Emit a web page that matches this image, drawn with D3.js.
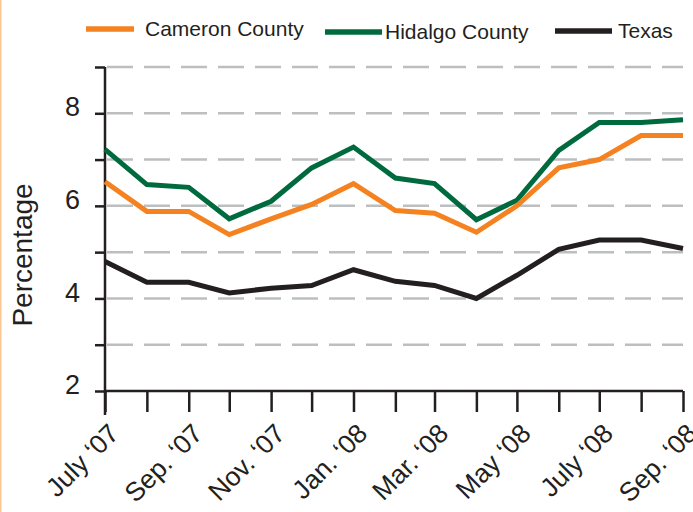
<!DOCTYPE html>
<html>
<head>
<meta charset="utf-8">
<script src="https://cdn.jsdelivr.net/npm/d3@7"></script>
<style>
  body { margin: 0; background: #fff; }
  svg { display: block; font-family: Arial, "Liberation Sans", Helvetica, sans-serif; }
</style>
</head>
<body>
<div id="chart"></div>
<script>
// Monthly rates, July '07 - Sep. '08
var months = ["2007-07-01", "2007-08-01", "2007-09-01", "2007-10-01", "2007-11-01",
    "2007-12-01", "2008-01-01", "2008-02-01", "2008-03-01", "2008-04-01",
    "2008-05-01", "2008-06-01", "2008-07-01", "2008-08-01", "2008-09-01"];
var monthLabels = ["July \u201807", "", "Sep. \u201807", "", "Nov. \u201807", "",
    "Jan. \u201808", "", "Mar. \u201808", "", "May \u201808", "", "July \u201808", "", "Sep. \u201808"];

var cameron = [6.52, 5.88, 5.88, 5.38, 5.72, 6.03, 6.48, 5.9, 5.84, 5.43, 6.0, 6.82, 7.0, 7.52, 7.52];
var hidalgo = [7.22, 6.46, 6.4, 5.72, 6.1, 6.82, 7.27, 6.6, 6.48, 5.7, 6.12, 7.2, 7.8, 7.8, 7.86];
var texas   = [4.8, 4.35, 4.35, 4.12, 4.22, 4.28, 4.62, 4.37, 4.28, 4.0, 4.5, 5.06, 5.26, 5.26, 5.08];

var seriesNames = ["Cameron County", "Hidalgo County", "Texas"];
var yTicks = [2, 3, 4, 5, 6, 7, 8, 9];
var yLabels = [2, 4, 6, 8];

var colors = { "Cameron County": "#f58220", "Hidalgo County": "#006a3f", "Texas": "#231f20" };

var width = 693, height = 512;
var margin = { top: 67, right: 10, bottom: 121, left: 105 };
var parse = d3.timeParse("%Y-%m-%d");
var dates = months.map(parse);

var svg = d3.select("#chart").append("svg")
    .attr("width", width)
    .attr("height", height);

// thin orange frame edge on the left
svg.append("rect")
    .attr("x", 0).attr("y", 0)
    .attr("width", 1.5).attr("height", height)
    .attr("fill", "#fbc692");

var x = d3.scaleTime()
    .domain(d3.extent(dates))
    .range([margin.left, 683]);

var y = d3.scaleLinear()
    .domain([2, 9])
    .range([391, margin.top]);

// dashed gridlines
svg.append("g")
    .selectAll("line")
    .data(yTicks.filter(function(d) { return d > 2; }))
    .enter().append("line")
    .attr("x1", margin.left + 2)
    .attr("x2", 683)
    .attr("y1", function(d) { return y(d); })
    .attr("y2", function(d) { return y(d); })
    .attr("stroke", "#bcbec0")
    .attr("stroke-width", 2.5)
    .attr("stroke-dasharray", "26,11");

// y axis
var yAxis = d3.axisLeft(y)
    .tickValues(yTicks)
    .tickSize(10)
    .tickPadding(15)
    .tickFormat(function(d) { return yLabels.indexOf(d) >= 0 ? d : ""; });

var gy = svg.append("g")
    .attr("transform", "translate(" + margin.left + ",0)")
    .call(yAxis);
gy.select(".domain").remove();
gy.selectAll(".tick line").attr("stroke", "#231f20").attr("stroke-width", 2.5);
gy.selectAll(".tick text")
    .attr("fill", "#231f20")
    .attr("font-size", 27)
    .attr("dy", "0.1em");

// x axis
var xAxis = d3.axisBottom(x)
    .tickValues(dates)
    .tickSize(21)
    .tickFormat(function(d, i) { return monthLabels[i]; });

var gx = svg.append("g")
    .attr("transform", "translate(0," + y(2) + ")")
    .call(xAxis);
gx.select(".domain").remove();
gx.selectAll(".tick line").attr("stroke", "#231f20").attr("stroke-width", 2.5);
gx.selectAll(".tick text")
    .attr("fill", "#231f20")
    .attr("font-size", 26.5)
    .attr("x", 0).attr("y", 0).attr("dy", 0)
    .attr("text-anchor", "end")
    .attr("transform", "translate(15,44) rotate(-45)");

// axis lines
svg.append("line")
    .attr("x1", margin.left).attr("x2", margin.left)
    .attr("y1", y(9)).attr("y2", y(2) + 24)
    .attr("stroke", "#231f20").attr("stroke-width", 2.5);
svg.append("line")
    .attr("x1", margin.left).attr("x2", 683)
    .attr("y1", y(2)).attr("y2", y(2))
    .attr("stroke", "#231f20").attr("stroke-width", 2.5);

// axis title
svg.append("text")
    .attr("transform", "translate(32,255) rotate(-90)")
    .attr("text-anchor", "middle")
    .attr("font-size", 28)
    .attr("fill", "#231f20")
    .text("Percentage");

// lines
var line = d3.line()
    .x(function(d, i) { return x(dates[i]); })
    .y(function(d) { return y(d); });

var seriesData = { "Cameron County": cameron, "Hidalgo County": hidalgo, "Texas": texas };

["Texas", "Hidalgo County", "Cameron County"].forEach(function(name) {
    svg.append("path")
        .datum(seriesData[name])
        .attr("d", line)
        .attr("fill", "none")
        .attr("stroke", colors[name])
        .attr("stroke-width", 5);
});

// legend
var legendPos = [
    { x1: 86, x2: 134, ly: 29, tx: 145, ty: 36 },
    { x1: 325, x2: 382, ly: 32, tx: 385, ty: 39 },
    { x1: 555, x2: 612, ly: 31, tx: 618, ty: 38 }
];

var legend = svg.append("g");
seriesNames.forEach(function(name, i) {
    var p = legendPos[i];
    legend.append("line")
        .attr("x1", p.x1).attr("x2", p.x2)
        .attr("y1", p.ly).attr("y2", p.ly)
        .attr("stroke", colors[name])
        .attr("stroke-width", 5.5);
    legend.append("text")
        .attr("x", p.tx).attr("y", p.ty)
        .attr("font-size", 21)
        .attr("fill", "#231f20")
        .text(name);
});
</script>
</body>
</html>
